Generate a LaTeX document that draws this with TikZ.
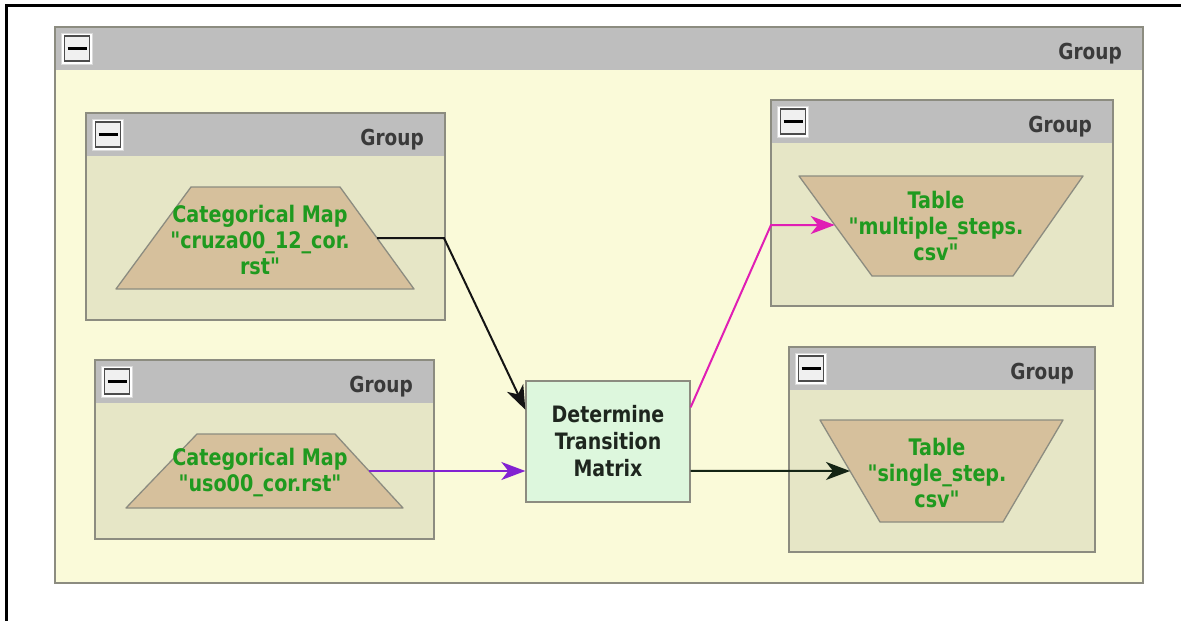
\documentclass[tikz,border=0pt]{standalone}
\usepackage{fontspec}
\newfontfamily\diafont{DejaVu Sans}[FakeStretch=0.84]
\usetikzlibrary{arrows.meta,calc}

\definecolor{canvas}{HTML}{FAFAD9}
\definecolor{grpbody}{HTML}{E6E6C6}
\definecolor{hdrgray}{HTML}{BEBEBE}
\definecolor{frameline}{HTML}{8C8C80}
\definecolor{tan}{HTML}{D6C09C}
\definecolor{labelgreen}{HTML}{1F9A1F}
\definecolor{mint}{HTML}{DDF7DD}
\definecolor{grouptext}{HTML}{3A3A3A}
\definecolor{proctext}{HTML}{1E261E}
\definecolor{violetline}{HTML}{8222D2}
\definecolor{magentaline}{HTML}{E01EB4}
\definecolor{darkline}{HTML}{141414}
\definecolor{darkgreenline}{HTML}{142414}

\tikzset{
  grpframe/.style={draw=frameline, line width=1.3pt},
  hdrbar/.style={fill=hdrgray},
  grplabel/.style={font=\diafont\bfseries\fontsize{22}{26}\selectfont, text=grouptext, anchor=base east, inner sep=0pt},
  btnout/.style={fill=white, draw=white!85!black, line width=1pt, minimum size=31pt, inner sep=0pt},
  btnin/.style={fill=white!94!black, draw=black!70, line width=1.3pt, minimum size=25pt, inner sep=0pt},
  btnbar/.style={line width=3.8pt, black},
  datashape/.style={fill=tan, draw=frameline, line width=1.3pt, line join=round},
  datalabel/.style={font=\diafont\bfseries\fontsize{22.8}{26}\selectfont, text=labelgreen, align=center, inner sep=0pt},
  procbox/.style={fill=mint, draw=frameline, line width=1.3pt, minimum width=164pt, minimum height=121pt,
    align=center, font=\diafont\bfseries\fontsize{22.6}{27}\selectfont, text=proctext},
  link/.style={line width=2pt, -{Stealth[length=24pt,width=18pt,inset=7pt]}},
}

% group container: name, x1, y1, x2, y2, body colour
\newcommand\groupframe[6]{%
  \fill[#6] (#2,#3) rectangle (#4,#5);
  \fill[hdrbar] (#2,#3) rectangle (#4,{#3+43});
  \draw[grpframe] (#2,#3) rectangle (#4,#5);
  \node[btnout] (#1btn) at ({#2+22},{#3+21.5}) {};
  \node[btnin] (#1btnface) at (#1btn.center) {};
  \draw[btnbar] ([xshift=-9.5pt]#1btn.center) -- ([xshift=9.5pt]#1btn.center);
  \node[grplabel] (#1title) at ({#4-21},{#3+32}) {Group};
}

\begin{document}
\begin{tikzpicture}[x=1pt,y=-1pt]
\useasboundingbox (0,0) rectangle (1181,621);
\fill[white] (0,0) rectangle (1181,621);

% window edge
\draw[line width=2.6pt, black] (6.5,621) -- (6.5,5.6) -- (1181,5.6);

% outer group and the four nested groups
\groupframe{outer}{55}{27}{1143}{583}{canvas}
\groupframe{ga}{86}{113}{445}{320}{grpbody}
\groupframe{gb}{95}{360}{434}{539}{grpbody}
\groupframe{gc}{771}{100}{1113}{306}{grpbody}
\groupframe{gd}{789}{347}{1095}{552}{grpbody}

% map inputs (trapezoids, wide side down)
\coordinate (ta1) at (191,187); \coordinate (ta2) at (340,187);
\coordinate (ta3) at (414,289); \coordinate (ta4) at (116,289);
\draw[datashape] (ta1) -- (ta2) -- (ta3) -- (ta4) -- cycle;
\node[datalabel] (tatext) at (260,240) {Categorical Map\\"cruza00\_12\_cor.\\rst"};

\coordinate (tb1) at (197,434); \coordinate (tb2) at (335,434);
\coordinate (tb3) at (403,508); \coordinate (tb4) at (126,508);
\draw[datashape] (tb1) -- (tb2) -- (tb3) -- (tb4) -- cycle;
\node[datalabel] (tbtext) at (260,473) {Categorical Map\\"uso00\_cor.rst"};

% table outputs (trapezoids, wide side up)
\coordinate (tc1) at (799,176); \coordinate (tc2) at (1083,176);
\coordinate (tc3) at (1013,276); \coordinate (tc4) at (872,276);
\draw[datashape] (tc1) -- (tc2) -- (tc3) -- (tc4) -- cycle;
\node[datalabel] (tctext) at (936,226) {Table\\"multiple\_steps.\\csv"};

\coordinate (td1) at (820,420); \coordinate (td2) at (1063,420);
\coordinate (td3) at (1003,522); \coordinate (td4) at (880,522);
\draw[datashape] (td1) -- (td2) -- (td3) -- (td4) -- cycle;
\node[datalabel] (tdtext) at (937,473) {Table\\"single\_step.\\csv"};

% process step
\node[procbox] (tm) at (608,441.5) {Determine\\Transition\\Matrix};

% connection points
\coordinate (taout) at ($(ta2)!0.5!(ta3)$);
\coordinate (tabend) at (444,238);
\coordinate (tmin1) at ($(tm.north west)!0.24!(tm.south west)$);
\coordinate (tbout) at ($(tb2)!0.5!(tb3)$);
\coordinate (tmout1) at ($(tm.north east)!0.22!(tm.south east)$);
\coordinate (tmout2) at ($(tm.north east)!0.74!(tm.south east)$);
\coordinate (tcin) at ($(tc1)!0.49!(tc4)$);
\coordinate (tcbend) at (771,225);
\coordinate (tdin) at ($(td1)!0.5!(td4)$);

% connectors
\draw[link, darkline] (taout) -- (tabend) -- (tmin1);
\draw[link, violetline] (tbout) -- (tbout -| tm.west);
\draw[link, magentaline] (tmout1) -- (tcbend) -- (tcbend -| tcin);
\draw[link, darkgreenline] (tmout2) -- (tdin);
\end{tikzpicture}
\end{document}
